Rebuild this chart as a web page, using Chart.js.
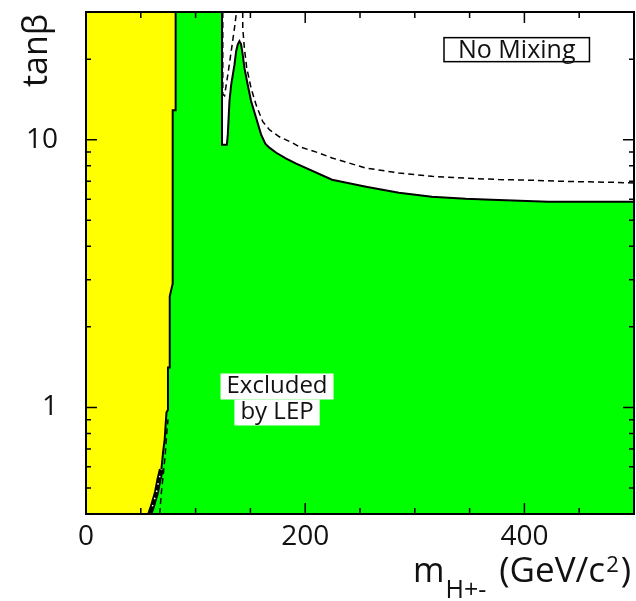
<!DOCTYPE html>
<html>
<head>
<meta charset="utf-8">
<title>Charged Higgs exclusion - no mixing</title>
<script src="https://cdn.jsdelivr.net/npm/chart.js@4.4.1/dist/chart.umd.min.js"></script>
<style>
  html, body { margin: 0; padding: 0; background: #fff; }
  #wrap { width: 636px; height: 601px; }
</style>
</head>
<body>
<div id="wrap"><canvas id="higgs-chart" width="636" height="601"></canvas></div>
<script>
// m_H+- (GeV/c^2) against tan(beta)

// edge of the theoretically inaccessible region (yellow)
const yellowMass = [0, 58.2, 60.6, 64.3, 66.6, 68.8, 70.3, 71.8, 73.4, 74.8, 74.8, 76.4, 76.4, 79.1, 79.1, 81.8, 81.8];
const yellowTan = [0.4, 0.4, 0.427, 0.482, 0.539, 0.587, 0.679, 0.76, 0.958, 0.98, 1.41, 1.41, 2.6, 2.9, 12.9, 12.9, 30];

// observed limit, top of the green region
const obsMass = [58.2, 124.1, 124.1, 128.5, 129.4, 130.9, 132.5, 135.5, 137.0, 138.5, 140.0, 141.5, 143.0, 144.5,
  147.5, 150.6, 155.2, 159.7, 163.6, 167.3, 173.6, 182.7, 191.8, 224.5, 255.5, 285.5, 315.5, 346.4, 370, 421.8, 500];
const obsTan = [30, 30, 9.58, 9.58, 10.47, 13.95, 16.08, 19.1, 21.4, 22.7, 23.35, 22.7, 20.8, 18.6,
  16.08, 13.95, 12.08, 10.47, 9.66, 9.34, 8.94, 8.5, 8.14, 7.09, 6.68, 6.34, 6.13, 6.02, 5.97, 5.87, 5.87];

// expected limit (dashed), three pieces
const expMass = [143.0, 143.0, 144.5, 146.6, 150.6, 155.2, 161.2, 167.3, 176.4, 188.2, 194.5, 212.7, 224.5,
  255.2, 285.5, 315.7, 346, 376.4, 406.6, 437, 482.5, 500];
const expTan = [30, 26.2, 22.0, 18.6, 15.6, 13.5, 11.7, 10.9, 10.26, 9.74, 9.42, 8.92, 8.55,
  7.84, 7.51, 7.30, 7.19, 7.10, 7.06, 6.99, 6.93, 6.89];
const expNotchMass = [124.8, 124.8, 126.4, 129.4, 132.5, 135.5, 137.3];
const expNotchTan = [30, 14.8, 14.6, 17.5, 21.4, 26.2, 30];
const expLowMass = [67.3, 68.6, 70.5, 72.3, 73.6, 74.8];
const expLowTan = [0.4, 0.474, 0.562, 0.668, 0.793, 0.902];

// axis ticks
const massTicks = [0, 50, 100, 150, 200, 250, 300, 350, 400, 450, 500];
const massLabels = [0, 200, 400];
const tanTicks = [0.4, 0.5, 0.6, 0.7, 0.8, 0.9, 1, 2, 3, 4, 5, 6, 7, 8, 9, 10, 20, 30];
const tanLabels = [1, 10];

const pts = (xs, ys) => xs.map((x, i) => ({ x: x, y: ys[i] }));

const dashed = (data) => ({
  data: data,
  borderColor: "#000",
  borderWidth: 1.5,
  borderDash: [6, 4],
  fill: false,
  order: 1,
});

Chart.defaults.font.family = "'Open Sans', sans-serif";
Chart.defaults.color = "#111";

// frame, inward ticks and the free text
const decorations = {
  id: "decorations",
  afterDatasetsDraw(chart) {
    const { ctx, chartArea: a, scales } = chart;
    const x = scales.x;
    const y = scales.y;
    ctx.save();

    // boxed labels
    ctx.textAlign = "center";
    ctx.textBaseline = "middle";
    ctx.font = "25px 'Open Sans'";
    const nmX = x.getPixelForValue(393);
    const nmY = y.getPixelForValue(21.7);
    const nmW = ctx.measureText("No Mixing").width + 28;
    ctx.fillStyle = "#fff";
    ctx.fillRect(nmX - nmW / 2, nmY - 12, nmW, 24);
    ctx.strokeStyle = "#000";
    ctx.lineWidth = 1.5;
    ctx.strokeRect(nmX - nmW / 2, nmY - 12, nmW, 24);
    ctx.fillStyle = "#111";
    ctx.fillText("No Mixing", nmX, nmY + 1);

    ctx.font = "24px 'Open Sans'";
    const exX = x.getPixelForValue(174.3);
    const exY = y.getPixelForValue(1.071);
    [["Excluded", -13], ["by LEP", 13]].forEach(([txt, dy]) => {
      const w = ctx.measureText(txt).width + 12;
      ctx.fillStyle = "#fff";
      ctx.fillRect(exX - w / 2, exY + dy - 13, w, 26);
      ctx.fillStyle = "#111";
      ctx.fillText(txt, exX, exY + dy);
    });

    // frame
    ctx.strokeStyle = "#000";
    ctx.lineWidth = 2;
    ctx.strokeRect(a.left, a.top, a.right - a.left, a.bottom - a.top);

    // ticks on all four sides, pointing in
    ctx.lineWidth = 1.5;
    ctx.beginPath();
    massTicks.forEach((v) => {
      const px = x.getPixelForValue(v);
      const len = massLabels.includes(v) ? 11 : 6;
      ctx.moveTo(px, a.bottom);
      ctx.lineTo(px, a.bottom - len);
      ctx.moveTo(px, a.top);
      ctx.lineTo(px, a.top + len);
    });
    tanTicks.forEach((v) => {
      const py = y.getPixelForValue(v);
      const len = tanLabels.includes(v) ? 11 : 5;
      ctx.moveTo(a.left, py);
      ctx.lineTo(a.left + len, py);
      ctx.moveTo(a.right, py);
      ctx.lineTo(a.right - len, py);
    });
    ctx.stroke();

    // axis titles
    ctx.fillStyle = "#111";
    ctx.textAlign = "left";
    ctx.textBaseline = "alphabetic";
    let cx = 413;
    ctx.font = "34px 'Open Sans'";
    ctx.fillText("m", cx, 582);
    cx += ctx.measureText("m").width;
    ctx.font = "25px 'Open Sans'";
    ctx.fillText("H+-", cx + 1, 598);
    cx += ctx.measureText("H+-").width + 14;
    ctx.font = "35px 'Open Sans'";
    ctx.fillText("(GeV/c", cx, 582);
    cx += ctx.measureText("(GeV/c").width;
    ctx.font = "22px 'Open Sans'";
    ctx.fillText("2", cx + 1, 572);
    cx += ctx.measureText("2").width + 3;
    ctx.font = "35px 'Open Sans'";
    ctx.fillText(")", cx, 582);

    ctx.translate(47, 87);
    ctx.rotate(-Math.PI / 2);
    ctx.font = "34px 'Open Sans'";
    ctx.fillText("tanβ", 0, 0);
    ctx.restore();
  },
};

const canvas = document.querySelector("#higgs-chart");

const options = {
  type: "line",
  data: {
    datasets: [
      {
        label: "Excluded by LEP",
        data: pts(obsMass, obsTan),
        fill: "start",
        backgroundColor: "#00ff00",
        borderColor: "#000",
        borderWidth: 2,
        order: 5,
      },
      {
        label: "Theoretically inaccessible",
        data: pts(yellowMass, yellowTan),
        fill: "end",
        backgroundColor: "#ffff00",
        borderColor: "#000",
        borderWidth: 2,
        order: 4,
      },
      {
        // doubled edge at low tan(beta)
        data: pts(yellowMass.slice(1, 6), yellowTan.slice(1, 6)),
        borderColor: "#000",
        borderWidth: 5,
        fill: false,
        order: 3,
      },
      {
        data: pts(yellowMass.slice(2, 6), yellowTan.slice(2, 6)),
        borderColor: "#fff",
        borderWidth: 1.5,
        borderDash: [1.5, 6],
        fill: false,
        order: 2,
      },
      dashed(pts(expMass, expTan)),
      dashed(pts(expNotchMass, expNotchTan)),
      dashed(pts(expLowMass, expLowTan)),
    ],
  },
  options: {
    responsive: false,
    animation: false,
    events: [],
    layout: { padding: { top: 12, right: 2, left: 0, bottom: 0 } },
    elements: { point: { radius: 0 }, line: { tension: 0 } },
    plugins: { legend: { display: false }, tooltip: { enabled: false } },
    scales: {
      x: {
        type: "linear",
        min: 0,
        max: 500,
        grid: { display: false },
        border: { display: false },
        afterBuildTicks: (scale) => {
          scale.ticks = massTicks.map((v) => ({ value: v }));
        },
        afterFit: (scale) => {
          scale.height = 87;
          scale.paddingLeft = 0;
          scale.paddingRight = 0;
        },
        ticks: {
          autoSkip: false,
          maxRotation: 0,
          padding: -2,
          font: { size: 28 },
          callback: (v) => (massLabels.includes(v) ? String(v) : ""),
        },
      },
      y: {
        type: "logarithmic",
        min: 0.4,
        max: 30,
        grid: { display: false },
        border: { display: false },
        afterBuildTicks: (scale) => {
          scale.ticks = tanTicks.map((v) => ({ value: v }));
        },
        afterFit: (scale) => {
          scale.width = 86;
          scale.paddingTop = 0;
          scale.paddingBottom = 0;
        },
        ticks: {
          autoSkip: false,
          padding: 20,
          font: { size: 28 },
          callback: (v) => (tanLabels.includes(v) ? String(v) : ""),
        },
      },
    },
  },
  plugins: [decorations],
};

const higgsChart = new Chart(canvas, options);
</script>
</body>
</html>
